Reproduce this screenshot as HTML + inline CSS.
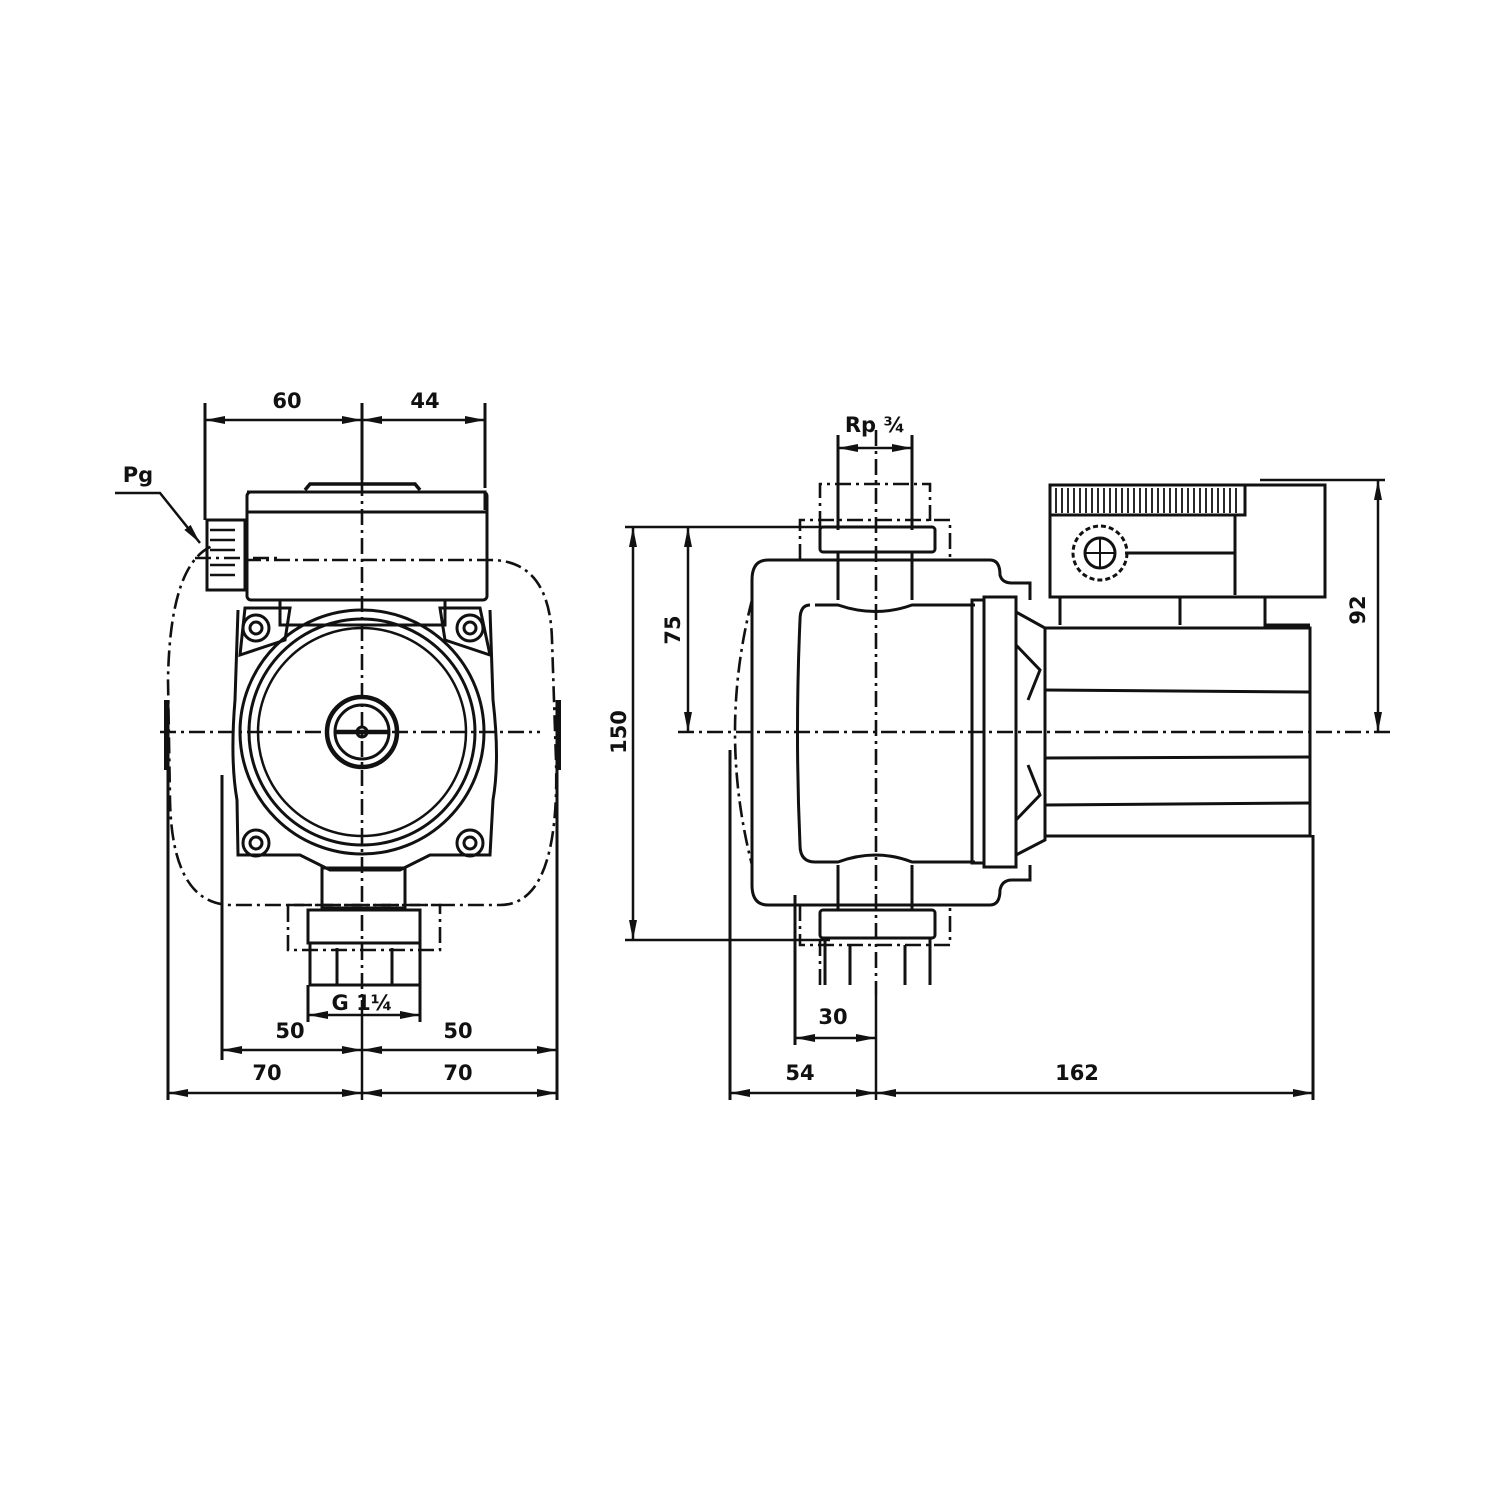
<!DOCTYPE html>
<html><head><meta charset="utf-8"><style>
html,body{margin:0;padding:0;background:#fff;}
svg{display:block;}
text{font-family:"DejaVu Sans","Liberation Sans",sans-serif;font-size:21px;font-weight:bold;fill:#111;text-anchor:middle;}
</style></head><body>
<svg width="1500" height="1500" viewBox="0 0 1500 1500" xmlns="http://www.w3.org/2000/svg">
<defs>
<marker id="a" viewBox="0 0 20 8" refX="20" refY="4" markerWidth="20" markerHeight="8" markerUnits="userSpaceOnUse" orient="auto-start-reverse"><path d="M0,0 L20,4 L0,8 z" fill="#111"/></marker>
</defs>
<g fill="none" stroke="#111" stroke-width="3">
<g stroke-dasharray="16 5 3 5" stroke-width="2.6">
<line x1="160" y1="732" x2="540" y2="732"/>
<line x1="362" y1="480" x2="362" y2="1000"/>
<path d="M245,560 H490 Q550,560 552,640 L556,760 Q560,905 500,905 H232 Q172,905 170,800 L168,680 Q170,560 215,545"/>
<line x1="195" y1="558" x2="280" y2="558"/>
<rect x="288" y="905" width="152" height="45"/>
</g>
<line x1="168" y1="700" x2="168" y2="1100" />
<line x1="557" y1="700" x2="557" y2="1100"/>
<line x1="166" y1="700" x2="166" y2="770" stroke-width="4"/>
<line x1="559" y1="700" x2="559" y2="770" stroke-width="4"/>
<line x1="222" y1="775" x2="222" y2="1060"/>
<line x1="205" y1="403" x2="205" y2="520"/>
<line x1="485" y1="403" x2="485" y2="488"/>
<line x1="362" y1="403" x2="362" y2="480"/>
<path d="M247,492 H485 V510"/>
<rect x="247" y="492" width="240" height="108" rx="4"/>
<line x1="247" y1="512" x2="487" y2="512"/>
<path d="M305,490 L310,484 H415 L420,490" stroke-width="3.5"/>
<rect x="207" y="520" width="38" height="70"/>
<g stroke-width="2.5"><line x1="210" y1="530" x2="235" y2="530"/><line x1="210" y1="540" x2="235" y2="540"/><line x1="210" y1="550" x2="235" y2="550"/><line x1="210" y1="565" x2="235" y2="565"/><line x1="210" y1="575" x2="235" y2="575"/></g>
<rect x="280" y="600" width="165" height="25"/>
<path d="M245,608 H290 L285,640 L240,655 Z"/>
<path d="M480,608 H440 L445,640 L490,655 Z"/>
<path d="M238,610 L235,700 Q230,760 237,800 L238,855 H300 L330,870 H400 L430,855 H490 L493,800 Q500,760 493,700 L490,610"/>
<circle cx="256" cy="628" r="13"/><circle cx="256" cy="628" r="6"/>
<circle cx="470" cy="628" r="13"/><circle cx="470" cy="628" r="6"/>
<circle cx="256" cy="843" r="13"/><circle cx="256" cy="843" r="6"/>
<circle cx="470" cy="843" r="13"/><circle cx="470" cy="843" r="6"/>
<circle cx="362" cy="732" r="122"/>
<circle cx="362" cy="732" r="113"/>
<circle cx="362" cy="732" r="104" stroke-width="2.5"/>
<circle cx="362" cy="732" r="35" stroke-width="4.5"/>
<circle cx="362" cy="732" r="27"/>
<circle cx="362" cy="732" r="5"/>
<line x1="335" y1="732" x2="389" y2="732" stroke-width="4.5"/>
<rect x="322" y="868" width="83" height="40"/>
<rect x="308" y="910" width="112" height="33"/>
<path d="M310,943 V985 H420 V943"/>
<line x1="337" y1="948" x2="337" y2="985"/><line x1="392" y1="948" x2="392" y2="985"/>
<line x1="308" y1="985" x2="308" y2="1022"/><line x1="420" y1="985" x2="420" y2="1022"/>
<g stroke-width="2.5">
<line x1="205" y1="420" x2="362" y2="420" marker-start="url(#a)" marker-end="url(#a)"/>
<line x1="362" y1="420" x2="485" y2="420" marker-start="url(#a)" marker-end="url(#a)"/>
<line x1="308" y1="1015" x2="420" y2="1015" marker-start="url(#a)" marker-end="url(#a)"/>
<line x1="222" y1="1050" x2="362" y2="1050" marker-start="url(#a)" marker-end="url(#a)"/>
<line x1="362" y1="1050" x2="557" y2="1050" marker-start="url(#a)" marker-end="url(#a)"/>
<line x1="168" y1="1093" x2="362" y2="1093" marker-start="url(#a)" marker-end="url(#a)"/>
<line x1="362" y1="1093" x2="557" y2="1093" marker-start="url(#a)" marker-end="url(#a)"/>
<line x1="362" y1="1000" x2="362" y2="1100"/>
<polyline points="115,493 160,493 200,543" marker-end="url(#a)"/>
</g>
<g stroke-dasharray="16 5 3 5" stroke-width="2.6">
<line x1="678" y1="732" x2="1390" y2="732"/>
<line x1="876" y1="430" x2="876" y2="995"/>
<path d="M752,600 Q718,732 752,865"/>
<path d="M820,527 V484 H930 V527"/>
<path d="M800,560 V520 H950 V560"/>
<path d="M800,905 V945 H950 V905"/>
<path d="M820,940 V985 M930,940 V985"/>
</g>
<line x1="838" y1="435" x2="838" y2="530"/><line x1="912" y1="435" x2="912" y2="530"/>
<rect x="820" y="527" width="115" height="25" rx="3"/>
<path d="M768,560 H990 Q1000,560 1000,575 Q1002,583 1012,583 H1030 V600"/>
<path d="M768,560 Q752,560 752,580 V885 Q752,905 768,905 H990 Q1000,905 1000,890 Q1002,880 1012,880 H1030 V865"/>
<path d="M838,552 V600 M912,552 V600 M838,865 V910 M912,865 V910"/>
<path d="M810,605 Q800,605 800,620 Q795,732 800,845 Q800,862 815,862 H838 Q876,848 912,862 H975 M815,605 H838 Q876,618 912,605 H975"/>
<rect x="972" y="600" width="12" height="263"/>
<rect x="984" y="597" width="32" height="270"/>
<path d="M1016,612 L1045,628 V840 L1016,855"/>
<path d="M1016,645 L1040,670 L1028,700 M1016,820 L1040,795 L1028,765"/>
<rect x="1045" y="628" width="265" height="208"/>
<line x1="1045" y1="690" x2="1310" y2="692"/>
<line x1="1045" y1="758" x2="1310" y2="757"/>
<line x1="1045" y1="805" x2="1310" y2="803"/>
<rect x="1050" y="485" width="275" height="112"/>
<rect x="1050" y="485" width="195" height="30"/>
<g stroke-width="1.8">
<path d="M1056,488V513M1062,488V513M1068,488V513M1074,488V513M1080,488V513M1086,488V513M1092,488V513M1098,488V513M1104,488V513M1110,488V513M1116,488V513M1122,488V513M1128,488V513M1134,488V513M1140,488V513M1146,488V513M1152,488V513M1158,488V513M1164,488V513M1170,488V513M1176,488V513M1182,488V513M1188,488V513M1194,488V513M1200,488V513M1206,488V513M1212,488V513M1218,488V513M1224,488V513M1230,488V513M1236,488V513"/>
</g>
<line x1="1235" y1="515" x2="1235" y2="595"/>
<line x1="1260" y1="480" x2="1385" y2="480" stroke-width="2.5"/>
<circle cx="1100" cy="553" r="27" stroke-dasharray="5 3"/>
<circle cx="1100" cy="553" r="15"/>
<path d="M1085,553H1115M1100,538V568" stroke-width="2"/>
<line x1="1125" y1="553" x2="1235" y2="553"/>
<path d="M1060,597 V625 M1180,597 V625 M1265,597 V628 M1265,625 H1310"/>
<line x1="730" y1="750" x2="730" y2="1100"/>
<line x1="795" y1="895" x2="795" y2="1045"/>
<line x1="1313" y1="835" x2="1313" y2="1100"/>
<rect x="820" y="910" width="115" height="28" rx="3"/>
<path d="M825,938 V985 M930,938 V985 M850,945 V985 M905,945 V985"/>
<g stroke-width="2.5">
<line x1="625" y1="527" x2="830" y2="527"/>
<line x1="625" y1="940" x2="830" y2="940"/>
<line x1="838" y1="448" x2="912" y2="448" marker-start="url(#a)" marker-end="url(#a)"/>
<line x1="633" y1="527" x2="633" y2="940" marker-start="url(#a)" marker-end="url(#a)"/>
<line x1="688" y1="527" x2="688" y2="732" marker-start="url(#a)" marker-end="url(#a)"/>
<line x1="1378" y1="480" x2="1378" y2="732" marker-start="url(#a)" marker-end="url(#a)"/>
<line x1="795" y1="1038" x2="876" y2="1038" marker-start="url(#a)" marker-end="url(#a)"/>
<line x1="730" y1="1093" x2="876" y2="1093" marker-start="url(#a)" marker-end="url(#a)"/>
<line x1="876" y1="1093" x2="1313" y2="1093" marker-start="url(#a)" marker-end="url(#a)"/>
<line x1="876" y1="995" x2="876" y2="1100"/>
</g>
</g>
<text x="287" y="408">60</text>
<text x="425" y="408">44</text>
<text x="138" y="482">Pg</text>
<text x="362" y="1010">G 1¼</text>
<text x="290" y="1038">50</text>
<text x="458" y="1038">50</text>
<text x="267" y="1080">70</text>
<text x="458" y="1080">70</text>
<text x="875" y="432">Rp ¾</text>
<text x="833" y="1024">30</text>
<text x="800" y="1080">54</text>
<text x="1077" y="1080">162</text>
<text transform="translate(626,732) rotate(-90)">150</text>
<text transform="translate(680,630) rotate(-90)">75</text>
<text transform="translate(1365,610) rotate(-90)">92</text>
</svg>
</body></html>
